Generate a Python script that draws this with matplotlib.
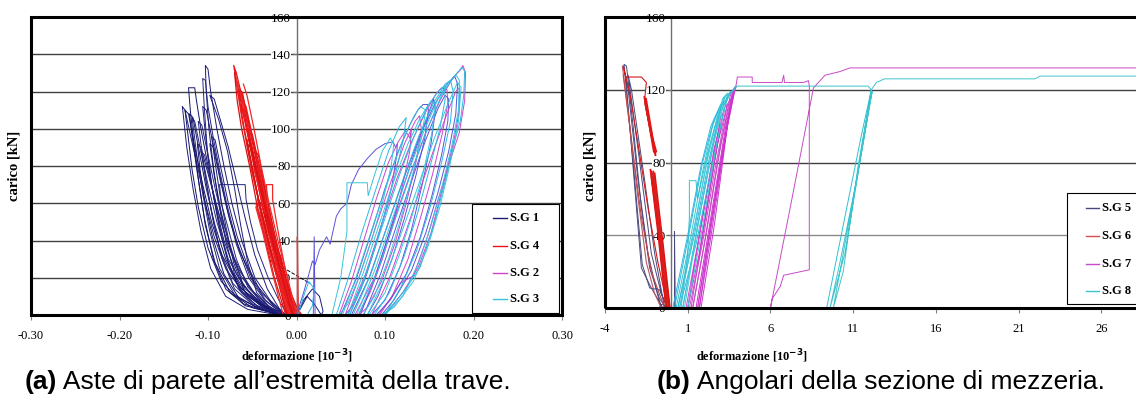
import matplotlib
matplotlib.use("Agg")
import matplotlib.pyplot as plt
from matplotlib.lines import Line2D
from matplotlib.patches import Rectangle

plt.rcParams['font.family'] = ['Liberation Serif', 'DejaVu Serif']
plt.rcParams['axes.unicode_minus'] = False

W, H = 1136.0, 396.0

# ---------------- panel (a): strain gauges at beam end ----------------
a_xticks = [-0.30, -0.20, -0.10, 0.00, 0.10, 0.20, 0.30]
a_xlabels = ['-0.30', '-0.20', '-0.10', '0.00', '0.10', '0.20', '0.30']
a_yticks = [0, 20, 40, 60, 80, 100, 120, 140, 160]

# S.G 1 (negative strain, navy)
sg1_loops = [
    [(-0.012, 0), (-0.035, 4), (-0.055, 10), (-0.07, 22), (-0.08, 40), (-0.088, 60), (-0.094, 80), (-0.099, 100),
     (-0.102, 120), (-0.103, 134), (-0.1, 132), (-0.097, 120), (-0.09, 100), (-0.082, 80), (-0.073, 60),
     (-0.062, 40), (-0.047, 20), (-0.03, 8), (-0.012, 0)],
    [(-0.015, 0), (-0.045, 5), (-0.065, 14), (-0.078, 30), (-0.088, 50), (-0.096, 70), (-0.101, 90), (-0.104, 110),
     (-0.106, 127), (-0.103, 126), (-0.1, 112), (-0.094, 95), (-0.087, 78), (-0.079, 60), (-0.068, 40),
     (-0.052, 20), (-0.035, 8), (-0.015, 0)],
    [(-0.018, 0), (-0.05, 4), (-0.075, 12), (-0.092, 28), (-0.103, 48), (-0.11, 70), (-0.116, 92), (-0.12, 110),
     (-0.122, 122), (-0.115, 122), (-0.113, 115), (-0.108, 100), (-0.1, 80), (-0.092, 60), (-0.082, 40),
     (-0.068, 22), (-0.05, 10), (-0.03, 3), (-0.017, 0)],
    [(-0.02, 0), (-0.055, 3), (-0.08, 10), (-0.097, 25), (-0.108, 45), (-0.117, 68), (-0.124, 90), (-0.129, 112),
     (-0.126, 110), (-0.12, 97), (-0.112, 80), (-0.103, 60), (-0.093, 42), (-0.08, 25), (-0.06, 12),
     (-0.04, 5), (-0.02, 0)],
    [(-0.016, 0), (-0.045, 4), (-0.07, 11), (-0.087, 25), (-0.098, 45), (-0.106, 65), (-0.113, 87), (-0.118, 106),
     (-0.115, 104), (-0.109, 90), (-0.1, 70), (-0.09, 50), (-0.077, 30), (-0.058, 14), (-0.035, 5), (-0.016, 0)],
    [(-0.014, 0), (-0.04, 3), (-0.065, 9), (-0.082, 22), (-0.095, 42), (-0.104, 62), (-0.109, 78), (-0.112, 92),
     (-0.108, 90), (-0.1, 76), (-0.091, 60), (-0.08, 42), (-0.066, 25), (-0.048, 12), (-0.03, 4), (-0.014, 0)],
    [(-0.012, 0), (-0.03, 4), (-0.045, 12), (-0.055, 28), (-0.063, 48), (-0.07, 68), (-0.078, 88), (-0.088, 105),
     (-0.098, 118), (-0.093, 116), (-0.085, 103), (-0.077, 90), (-0.068, 72), (-0.058, 52), (-0.047, 32),
     (-0.033, 14), (-0.015, 0)],
    [(-0.01, 0), (-0.035, 5), (-0.055, 15), (-0.068, 30), (-0.078, 48), (-0.085, 60), (-0.087, 70), (-0.058, 70),
     (-0.057, 62), (-0.052, 50), (-0.044, 35), (-0.032, 20), (-0.02, 8), (-0.01, 0)],
    [(-0.013, 0), (-0.04, 6), (-0.06, 16), (-0.074, 34), (-0.085, 55), (-0.093, 75), (-0.098, 92),
     (-0.094, 90), (-0.086, 72), (-0.076, 52), (-0.064, 34), (-0.048, 18), (-0.028, 6), (-0.013, 0)],
    [(-0.014, 0), (-0.042, 4), (-0.062, 12), (-0.076, 26), (-0.086, 44), (-0.094, 64), (-0.1, 84), (-0.104, 102),
     (-0.106, 112), (-0.102, 110), (-0.096, 96), (-0.088, 78), (-0.079, 58), (-0.068, 38), (-0.054, 20),
     (-0.036, 8), (-0.014, 0)],
    [(-0.016, 0), (-0.048, 5), (-0.07, 14), (-0.084, 30), (-0.094, 50), (-0.102, 72), (-0.108, 92), (-0.111, 104),
     (-0.107, 102), (-0.1, 86), (-0.092, 68), (-0.082, 48), (-0.07, 30), (-0.052, 14), (-0.032, 5), (-0.016, 0)],
    [(-0.018, 0), (-0.058, 5), (-0.08, 14), (-0.094, 30), (-0.104, 52), (-0.112, 76), (-0.118, 96), (-0.121, 108),
     (-0.117, 106), (-0.11, 88), (-0.102, 68), (-0.092, 48), (-0.08, 30), (-0.062, 14), (-0.038, 5), (-0.018, 0)],
    [(-0.012, 0), (-0.038, 4), (-0.058, 12), (-0.071, 28), (-0.08, 48), (-0.087, 66), (-0.092, 82), (-0.096, 96),
     (-0.092, 94), (-0.085, 78), (-0.077, 60), (-0.067, 42), (-0.055, 26), (-0.04, 12), (-0.022, 4), (-0.012, 0)],
    [(-0.015, 0), (-0.05, 6), (-0.072, 17), (-0.086, 34), (-0.096, 55), (-0.103, 74), (-0.108, 88),
     (-0.104, 86), (-0.097, 72), (-0.089, 56), (-0.078, 38), (-0.063, 21), (-0.042, 8), (-0.015, 0)],
    [(-0.02, 0), (-0.06, 6), (-0.085, 18), (-0.1, 36), (-0.111, 58), (-0.118, 78), (-0.123, 98), (-0.126, 110),
     (-0.122, 108), (-0.115, 90), (-0.106, 70), (-0.096, 50), (-0.084, 32), (-0.066, 16), (-0.042, 6), (-0.02, 0)],
    [(0.0, 0), (0.008, 8), (0.018, 14), (0.026, 10), (0.03, 2), (0.028, 0), (0.02, 6), (0.012, 10), (0.004, 3)],
]
sg1_dash = [(-0.031, 29.5), (-0.01, 24), (0.015, 17)]

# S.G 4 (negative strain, red)
sg4_loops = [
    [(-0.004, 0), (-0.012, 12), (-0.02, 25), (-0.03, 42), (-0.04, 62), (-0.05, 85), (-0.06, 108), (-0.068, 126),
     (-0.071, 134), (-0.068, 130), (-0.058, 110), (-0.047, 88), (-0.036, 65), (-0.026, 45), (-0.016, 25),
     (-0.009, 10), (-0.003, 0)],
    [(-0.006, 0), (-0.015, 15), (-0.025, 32), (-0.036, 55), (-0.047, 80), (-0.057, 102), (-0.065, 122),
     (-0.061, 119), (-0.052, 98), (-0.042, 76), (-0.032, 55), (-0.022, 35), (-0.012, 16), (-0.005, 0)],
    [(-0.006, 0), (-0.014, 14), (-0.024, 30), (-0.034, 50), (-0.045, 75), (-0.055, 98), (-0.062, 115),
     (-0.057, 112), (-0.048, 92), (-0.038, 70), (-0.028, 48), (-0.018, 28), (-0.01, 12), (-0.004, 0)],
    [(-0.005, 0), (-0.013, 12), (-0.022, 28), (-0.032, 48), (-0.043, 72), (-0.055, 100), (-0.05, 97),
     (-0.04, 76), (-0.03, 54), (-0.02, 32), (-0.011, 14), (-0.004, 0)],
    [(-0.003, 0), (-0.011, 12), (-0.02, 28), (-0.03, 48), (-0.04, 70), (-0.047, 88), (-0.043, 86), (-0.034, 64),
     (-0.025, 44), (-0.016, 26), (-0.008, 10), (-0.002, 0)],
    [(-0.004, 0), (-0.012, 15), (-0.022, 35), (-0.032, 55), (-0.034, 70), (-0.027, 70), (-0.027, 62),
     (-0.022, 48), (-0.015, 30), (-0.008, 14), (-0.002, 0)],
    [(-0.002, 0), (-0.01, 12), (-0.02, 28), (-0.032, 48), (-0.026, 45), (-0.018, 30), (-0.01, 15), (-0.002, 0)],
    [(-0.004, 0), (-0.012, 12), (-0.025, 35), (-0.018, 32), (-0.01, 16), (0.004, 0)],
    [(-0.005, 0), (-0.013, 10), (-0.024, 26), (-0.035, 46), (-0.045, 66), (-0.054, 86), (-0.062, 106),
     (-0.069, 128), (-0.066, 124), (-0.055, 104), (-0.045, 84), (-0.035, 62), (-0.025, 42), (-0.015, 22),
     (-0.007, 6), (-0.002, 0)],
    [(-0.007, 0), (-0.017, 18), (-0.028, 38), (-0.038, 58), (-0.048, 80), (-0.058, 104), (-0.063, 112),
     (-0.059, 110), (-0.05, 90), (-0.041, 70), (-0.031, 50), (-0.021, 30), (-0.011, 12), (-0.005, 0)],
    [(-0.008, 0), (-0.018, 16), (-0.03, 36), (-0.041, 58), (-0.05, 78), (-0.056, 92), (-0.052, 90), (-0.044, 74),
     (-0.035, 56), (-0.025, 36), (-0.014, 16), (-0.006, 0)],
    [(-0.004, 0), (-0.012, 10), (-0.022, 24), (-0.034, 44), (-0.045, 66), (-0.052, 80), (-0.048, 78),
     (-0.039, 62), (-0.03, 44), (-0.02, 26), (-0.01, 10), (0.002, 0)],
    [(-0.01, 0), (-0.02, 18), (-0.03, 34), (-0.038, 50), (-0.044, 62), (-0.04, 60), (-0.032, 46), (-0.022, 28),
     (-0.013, 12), (-0.006, 0)],
    [(-0.003, 0), (-0.01, 8), (-0.018, 20), (-0.026, 34), (-0.036, 54), (-0.031, 52), (-0.022, 36),
     (-0.014, 22), (-0.006, 8), (0.003, 0)],
    [(-0.006, 0), (-0.016, 12), (-0.027, 28), (-0.038, 46), (-0.046, 60), (-0.041, 58), (-0.031, 42),
     (-0.02, 24), (-0.01, 8), (0.005, 0)],
    [(-0.005, 0), (-0.013, 14), (-0.02, 26), (-0.028, 40), (-0.023, 38), (-0.015, 24), (-0.008, 10), (0.006, 0)],
    [(-0.012, 0), (-0.025, 20), (-0.035, 40), (-0.045, 60), (-0.053, 80), (-0.062, 100), (-0.067, 115),
     (-0.07, 130)],
    [(0.0, 0), (-0.01, 20), (-0.021, 40), (-0.031, 60), (-0.04, 80), (-0.048, 100), (-0.056, 118), (-0.06, 124)],
    [(-0.009, 0), (-0.021, 20), (-0.031, 38), (-0.042, 60), (-0.05, 78), (-0.059, 100), (-0.066, 120),
     (-0.062, 120), (-0.052, 100), (-0.044, 80), (-0.035, 60), (-0.025, 40), (-0.013, 20), (-0.001, 0)],
    [(-0.011, 0), (-0.023, 22), (-0.033, 42), (-0.043, 62), (-0.051, 82), (-0.056, 94), (-0.053, 94),
     (-0.045, 78), (-0.036, 58), (-0.027, 40), (-0.016, 20), (-0.004, 0)],
    [(-0.015, 0), (-0.028, 24), (-0.038, 44), (-0.046, 58), (-0.041, 54), (-0.033, 38), (-0.022, 20),
     (-0.008, 0)],
    [(0.001, 0), (0.001, 42), (0.002, 0)],
]

# S.G 2 (positive strain, magenta / violet)
sg2_loops = [
    [(0.0, 0), (0.008, 12), (0.014, 22), (0.018, 29), (0.021, 27), (0.026, 35), (0.034, 42), (0.038, 38),
     (0.045, 53), (0.05, 57), (0.057, 60), (0.062, 70), (0.07, 78), (0.08, 84), (0.09, 89), (0.1, 92),
     (0.109, 93), (0.112, 90), (0.114, 92), (0.113, 85), (0.108, 70), (0.1, 55), (0.09, 38), (0.078, 20),
     (0.065, 6), (0.055, 0)],
    [(0.048, 0), (0.062, 18), (0.076, 40), (0.09, 62), (0.104, 82), (0.115, 93), (0.123, 99), (0.128, 95),
     (0.13, 100), (0.128, 88), (0.12, 70), (0.11, 50), (0.097, 30), (0.083, 12), (0.07, 0)],
    [(0.05, 0), (0.068, 20), (0.085, 45), (0.1, 68), (0.115, 88), (0.128, 102), (0.137, 110), (0.143, 113),
     (0.148, 113), (0.149, 110), (0.145, 95), (0.135, 75), (0.122, 52), (0.108, 30), (0.092, 10), (0.08, 0)],
    [(0.058, 0), (0.078, 22), (0.097, 50), (0.114, 74), (0.13, 93), (0.146, 109), (0.158, 119), (0.164, 122),
     (0.17, 121), (0.171, 114), (0.165, 98), (0.154, 76), (0.14, 52), (0.126, 30), (0.108, 10), (0.092, 0)],
    [(0.062, 0), (0.082, 20), (0.102, 47), (0.121, 73), (0.139, 96), (0.156, 113), (0.17, 124), (0.179, 128),
     (0.182, 124), (0.18, 108), (0.172, 88), (0.16, 66), (0.146, 44), (0.13, 24), (0.11, 8), (0.096, 0)],
    [(0.066, 0), (0.088, 20), (0.108, 48), (0.128, 75), (0.146, 98), (0.162, 115), (0.176, 127), (0.186, 132),
     (0.188, 134), (0.191, 130), (0.19, 115), (0.184, 98), (0.173, 82), (0.16, 62), (0.148, 42), (0.132, 21),
     (0.117, 17), (0.105, 8), (0.094, 0)],
    [(0.072, 0), (0.09, 22), (0.106, 46), (0.12, 68), (0.134, 88), (0.146, 104), (0.155, 116), (0.157, 110),
     (0.152, 92), (0.142, 70), (0.13, 46), (0.117, 26), (0.1, 8), (0.085, 0)],
    [(0.055, 0), (0.072, 22), (0.09, 48), (0.107, 72), (0.122, 92), (0.134, 104), (0.139, 107), (0.141, 100),
     (0.135, 82), (0.124, 60), (0.111, 38), (0.096, 18), (0.08, 4), (0.07, 0)],
    [(0.076, 0), (0.095, 22), (0.113, 48), (0.13, 72), (0.146, 94), (0.16, 111), (0.168, 118), (0.172, 116),
     (0.171, 104), (0.164, 86), (0.153, 64), (0.14, 42), (0.124, 22), (0.106, 8), (0.09, 0)],
    [(0.085, 0), (0.105, 20), (0.123, 44), (0.14, 68), (0.156, 90), (0.17, 108), (0.18, 120), (0.184, 122),
     (0.184, 110), (0.178, 94), (0.166, 70), (0.152, 44), (0.138, 26), (0.12, 12), (0.1, 0)],
    [(0.019, 0), (0.02, 42), (0.021, 0)],
]

# S.G 3 (positive strain, cyan)
sg3_loops = [
    [(0.04, 0), (0.05, 20), (0.057, 45), (0.057, 71), (0.08, 71), (0.081, 64), (0.088, 75), (0.097, 88),
     (0.106, 95), (0.11, 92), (0.107, 80), (0.098, 62), (0.086, 42), (0.072, 22), (0.058, 6), (0.048, 0)],
    [(0.045, 0), (0.06, 22), (0.075, 46), (0.09, 68), (0.104, 88), (0.116, 101), (0.124, 106), (0.121, 95),
     (0.112, 76), (0.1, 55), (0.087, 34), (0.073, 14), (0.06, 0)],
    [(0.052, 0), (0.07, 24), (0.088, 50), (0.105, 74), (0.12, 94), (0.133, 107), (0.14, 112), (0.146, 110),
     (0.141, 95), (0.131, 75), (0.118, 52), (0.104, 30), (0.088, 10), (0.075, 0)],
    [(0.06, 0), (0.08, 24), (0.1, 52), (0.117, 76), (0.133, 96), (0.148, 112), (0.16, 120), (0.167, 123),
     (0.168, 116), (0.162, 100), (0.15, 78), (0.137, 55), (0.122, 32), (0.105, 12), (0.088, 0)],
    [(0.068, 0), (0.09, 26), (0.11, 54), (0.128, 79), (0.145, 100), (0.16, 116), (0.172, 125), (0.18, 129),
     (0.184, 126), (0.183, 110), (0.176, 92), (0.165, 70), (0.152, 48), (0.138, 28), (0.12, 10), (0.1, 0)],
    [(0.07, 0), (0.092, 24), (0.112, 52), (0.13, 77), (0.148, 100), (0.164, 118), (0.178, 128), (0.187, 133),
     (0.19, 131), (0.189, 118), (0.185, 104), (0.178, 92), (0.168, 72), (0.155, 48), (0.14, 26), (0.125, 15),
     (0.11, 6), (0.098, 0)],
    [(0.058, 0), (0.075, 22), (0.093, 48), (0.11, 72), (0.126, 92), (0.14, 106), (0.152, 115), (0.157, 113),
     (0.153, 98), (0.144, 78), (0.131, 54), (0.116, 32), (0.1, 12), (0.082, 0)],
    [(0.064, 0), (0.084, 22), (0.104, 50), (0.122, 75), (0.139, 97), (0.155, 114), (0.168, 124), (0.174, 126),
     (0.177, 120), (0.174, 104), (0.164, 82), (0.151, 58), (0.136, 35), (0.118, 15), (0.1, 0)],
    [(0.08, 0), (0.1, 20), (0.12, 46), (0.138, 70), (0.155, 94), (0.17, 112), (0.182, 125), (0.186, 122),
     (0.183, 104), (0.174, 82), (0.162, 58), (0.148, 36), (0.132, 18), (0.11, 4), (0.095, 0)],
    [(0.002, 0), (0.008, 10), (0.014, 18), (0.02, 14), (0.018, 5), (0.012, 0)],
]

# ---------------- panel (b): angles at midspan section ----------------
b_xticks = [-4, 1, 6, 11, 16, 21, 26]
b_yticks = [0, 40, 80, 120, 160]

# S.G 5 (slate)
sg5_loops = [
    [(-0.25, 0), (-0.7, 10), (-1.3, 11), (-1.75, 24), (-2.3, 80), (-2.85, 134), (-2.7, 133), (-2.3, 100),
     (-1.8, 55), (-1.3, 22), (-0.7, 5), (-0.3, 0)],
    [(-0.5, 0), (-1.2, 11), (-1.8, 22), (-2.75, 127), (-2.6, 120), (-2.0, 70), (-1.4, 30), (-0.9, 10), (-0.6, 0)],
    [(-0.2, 0), (-0.6, 8), (-1.2, 30), (-1.9, 80), (-2.6, 128), (-2.4, 120), (-1.6, 70), (-1.0, 30), (-0.4, 0)],
    [(0.2, 0), (0.2, 42), (0.25, 0)],
]

# S.G 6 (red): peak branches, then the two dense bands
sg6_loops = [
    [(-0.2, 0), (-0.8, 25), (-1.4, 55), (-2.0, 90), (-2.5, 118), (-2.9, 133), (-2.75, 127), (-1.8, 127),
     (-1.5, 124), (-1.6, 115), (-1.3, 100), (-1.0, 85)],
    [(-2.95, 133), (-2.5, 100), (-2.0, 60), (-1.5, 25), (-1.0, 8), (-0.6, 0)],
    [(-2.9, 128), (-2.3, 85), (-1.8, 50), (-1.2, 20), (-0.4, 0)],
]
sg6_bands = [
    [(-1.55, 112), (-1.25, 98), (-0.95, 84)],
    [(-1.5, 110), (-1.2, 96), (-0.9, 86)],
    [(-1.45, 108), (-1.15, 94), (-0.98, 86)],
    [(-1.62, 116), (-1.35, 102), (-1.05, 86)],
    [(-1.58, 113), (-1.28, 99), (-1.02, 87)],
    [(-1.52, 115), (-1.22, 99), (-0.96, 85)],
    [(-1.2, 75), (-0.7, 38), (-0.2, 0)],
    [(-1.1, 74), (-0.6, 36), (-0.15, 0)],
    [(-1.15, 70), (-0.65, 35), (-0.25, 0)],
    [(-1.05, 72), (-0.55, 34), (-0.1, 0)],
    [(-1.18, 72), (-0.72, 40), (-0.3, 0)],
    [(-1.25, 76), (-0.8, 42), (-0.3, 0)],
    [(-1.0, 74), (-0.5, 35), (-0.08, 0)],
    [(-1.08, 75), (-0.58, 36), (-0.18, 0)],
]

# S.G 7 (magenta)
sg7_loops = [
    [(1.6, 0), (2.3, 40), (3.0, 80), (3.6, 112), (3.9, 121), (4.0, 127), (4.9, 127), (4.9, 124), (6.7, 124),
     (6.8, 128), (6.85, 124), (8.0, 124), (8.3, 125), (8.35, 122), (8.35, 21), (6.8, 18), (6.6, 12), (6.1, 5),
     (6.0, 0), (7.3, 60), (8.6, 121), (9.3, 128), (10.2, 130), (10.8, 132), (31.0, 132)],
    [(1.5, 0), (2.4, 50), (3.3, 100), (3.8, 120), (3.6, 118), (2.8, 80), (2.0, 35), (1.3, 0)],
    [(1.2, 0), (2.0, 45), (2.8, 90), (3.4, 112), (3.2, 110), (2.4, 70), (1.7, 30), (1.0, 0)],
    [(1.0, 0), (1.8, 45), (2.6, 88), (3.2, 108), (3.0, 105), (2.2, 65), (1.4, 25), (0.9, 0)],
    [(1.7, 0), (2.5, 45), (3.3, 95), (3.85, 121), (3.7, 119), (2.9, 75), (2.1, 30), (1.6, 0)],
    [(1.3, 0), (2.2, 45), (3.0, 90), (3.6, 115), (3.4, 112), (2.6, 74), (1.9, 36), (1.1, 0)],
    [(1.8, 0), (2.6, 45), (3.4, 100), (3.9, 122), (3.75, 120), (3.0, 78), (2.2, 32), (1.7, 0)],
]

# S.G 8 (cyan)
sg8_loops = [
    [(0.3, 0), (1.2, 40), (1.9, 75), (2.5, 100), (3.0, 112), (3.3, 112), (3.5, 117), (4.0, 122), (11.9, 122),
     (12.1, 120), (11.3, 78), (10.4, 20), (9.8, 0), (10.4, 30), (11.3, 75), (12.0, 112), (12.15, 119),
     (11.5, 85), (10.5, 30), (9.6, 0), (10.2, 25), (11.2, 70), (12.1, 120), (12.4, 124), (12.9, 126),
     (22.0, 126), (22.3, 127.5), (31.0, 127.5)],
    [(9.4, 0), (10.5, 50), (11.5, 95), (12.05, 118)],
    [(0.1, 0), (1.0, 40), (1.8, 78), (2.4, 100), (2.9, 110), (3.0, 112), (3.3, 112), (3.1, 105), (2.4, 75),
     (1.5, 35), (0.5, 0)],
    [(0.4, 0), (1.4, 45), (2.2, 82), (2.9, 108), (3.3, 117), (3.1, 115), (2.5, 88), (1.6, 45), (0.7, 0)],
    [(0.7, 0), (1.6, 45), (2.5, 88), (3.2, 113), (3.6, 119), (3.4, 117), (2.7, 88), (1.9, 45), (1.0, 0)],
    [(0.6, 0), (1.0, 30), (1.1, 50), (1.1, 70), (1.5, 70), (1.6, 60), (2.2, 85), (2.8, 105), (3.5, 117),
     (3.9, 122)],
    [(0.2, 0), (1.1, 42), (1.9, 80), (2.6, 104), (3.2, 114), (3.0, 110), (2.3, 82), (1.4, 40), (0.4, 0)],
    [(0.5, 0), (1.5, 48), (2.3, 88), (3.0, 112), (3.4, 118), (3.2, 116), (2.6, 92), (1.7, 50), (0.8, 0)],
]


def draw_loops(ax, loops, colors, lw=0.7):
    for i, loop in enumerate(loops):
        xs = [p[0] for p in loop]
        ys = [p[1] for p in loop]
        ax.plot(xs, ys, color=colors[i % len(colors)], lw=lw, zorder=2)


def style_axes(ax, xticks, xlabels, yticks, xlim, ylim, grey40=False):
    ax.set_xlim(*xlim)
    ax.set_ylim(*ylim)
    for sp in ['top', 'right', 'bottom']:
        ax.spines[sp].set_visible(False)
    ax.spines['left'].set_position(('data', 0))
    ax.spines['left'].set_color('#707070')
    ax.spines['left'].set_linewidth(1.0)
    for y in yticks[1:-1]:
        col = '#8a8a8a' if (grey40 and y == 40) else '#404040'
        ax.axhline(y, color=col, lw=1.0, zorder=0.5)
    ax.set_xticks(xticks)
    ax.set_xticklabels(xlabels, fontsize=9)
    ax.set_yticks(yticks)
    ax.set_yticklabels([str(v) for v in yticks], fontsize=9.5)
    ax.tick_params(axis='x', direction='out', length=3.5, color='#808080', pad=7)
    ax.tick_params(axis='y', direction='out', length=3, color='#707070', pad=1)
    for lab in ax.get_yticklabels():
        lab.set_bbox(dict(facecolor='white', edgecolor='none', pad=0.3))
    ax.add_patch(Rectangle((0, 0), 1, 1, transform=ax.transAxes, fill=False, lw=2.2, ec='black',
                           clip_on=False, zorder=4))


def draw_legend(fig, box, rows_y, hx, tx, names, colors):
    # legend drawn by hand so the box matches the original padding
    x0, y0, x1, y1 = box
    fig.add_artist(Rectangle((x0 / W, 1 - y1 / H), (x1 - x0) / W, (y1 - y0) / H, transform=fig.transFigure,
                             fc='white', ec='black', lw=0.8, zorder=5))
    for yy, name, col in zip(rows_y, names, colors):
        fig.add_artist(Line2D([hx[0] / W, hx[1] / W], [1 - yy / H, 1 - yy / H], transform=fig.transFigure,
                              color=col, lw=1.0, zorder=6))
        fig.text(tx / W, 1 - yy / H, name, ha='left', va='center', fontsize=9, fontweight='bold', zorder=6)


def main():
    fig = plt.figure(figsize=(11.36, 3.96), dpi=100)

    # panel (a)
    ax1 = fig.add_axes([31 / W, 1 - 315 / H, 531 / W, 298 / H])
    ax1.patch.set_alpha(0)
    draw_loops(ax1, sg1_loops, ['#1c1c78', '#26267e', '#14146a'])
    ax1.plot([p[0] for p in sg1_dash], [p[1] for p in sg1_dash], color='black', lw=0.7, ls='--', zorder=2)
    draw_loops(ax1, sg4_loops, ['#e8141a', '#d81010', '#f02a2a'], lw=0.9)
    draw_loops(ax1, sg2_loops, ['#5a52dc', '#cc44cc'])
    draw_loops(ax1, sg3_loops, ['#38c4dc', '#2cb8e0'])
    style_axes(ax1, a_xticks, a_xlabels, a_yticks, (-0.3, 0.3), (0, 160))

    # panel (b)
    ax2 = fig.add_axes([605 / W, 1 - 308 / H, 579 / W, 291 / H])
    ax2.patch.set_alpha(0)
    draw_loops(ax2, sg5_loops, ['#48487e'])
    draw_loops(ax2, sg6_loops, ['#d41818', '#b85860', '#c04848'], lw=0.8)
    draw_loops(ax2, sg6_bands, ['#e01010', '#d82020', '#e41414'], lw=1.3)
    draw_loops(ax2, sg7_loops, ['#c84ac8', '#d030d0', '#cc3ccc', '#d044d0', '#c838c8'])
    draw_loops(ax2, sg8_loops, ['#3cc4cc', '#30c0d0', '#2cb8e0', '#40c8d8'])
    style_axes(ax2, b_xticks, [str(v) for v in b_xticks], b_yticks, (-4, 31), (0, 160), grey40=True)

    draw_legend(fig, (472, 204, 559, 313), [218, 246, 273, 299], (493, 507), 510,
                ['S.G 1', 'S.G 4', 'S.G 2', 'S.G 3'], ['#1c1c78', '#e8141a', '#cc44cc', '#38c4dc'])
    draw_legend(fig, (1067, 193, 1150, 304), [208, 236, 264, 291], (1086, 1099), 1102,
                ['S.G 5', 'S.G 6', 'S.G 7', 'S.G 8'], ['#48487e', '#d05050', '#c84ac8', '#3cc4cc'])

    # axis titles
    for x_ylab, x_xlab in [(14, 297), (590, 752)]:
        fig.text(x_ylab / W, 1 - 166 / H, 'carico [kN]', rotation=90, ha='center', va='center',
                 fontsize=10.5, fontweight='bold')
        fig.text(x_xlab / W, 1 - 356 / H, 'deformazione [10$^{\\mathbf{-3}}$]', ha='center', va='center',
                 fontsize=9, fontweight='bold')

    # captions
    for x0, tag, rest in [(25, '(a)', ' Aste di parete all\u2019estremit\u00e0 della trave.'),
                          (657, '(b)', ' Angolari della sezione di mezzeria.')]:
        t = fig.text(x0 / W, 1 - 382 / H, tag, fontsize=19, fontweight='bold', family='Liberation Sans',
                     va='center', ha='left')
        ax1.annotate(rest, xy=(1, 0), xycoords=t, va='bottom', ha='left', fontsize=19,
                     family='Liberation Sans', annotation_clip=False)

    fig.savefig('out.png', dpi=100)


if __name__ == "__main__":
    main()
